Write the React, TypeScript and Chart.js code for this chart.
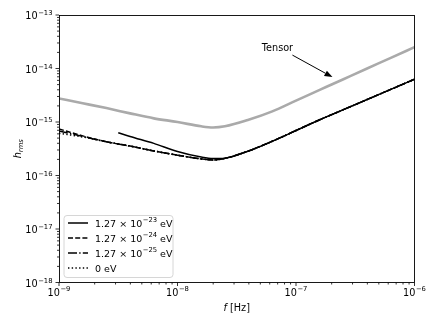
import React, { useEffect, useRef } from "react";
import { Chart, registerables } from "chart.js";
Chart.register(...registerables);

// ---- data ----
const freqHz = [1e-9, 1.585e-9, 2.512e-9, 3.981e-9, 6.31e-9, 1e-8, 1.585e-8, 1.995e-8, 2.512e-8, 3.981e-8, 6.31e-8, 1e-7, 1.585e-7, 2.512e-7, 3.981e-7, 6.31e-7, 1e-6];
const hTensor = [2.75e-15, 2.24e-15, 1.82e-15, 1.45e-15, 1.17e-15, 1.0e-15, 8.3e-16, 7.9e-16, 8.3e-16, 1.1e-15, 1.58e-15, 2.51e-15, 3.98e-15, 6.31e-15, 1.0e-14, 1.58e-14, 2.51e-14];
const hZero = [6.17e-16, 5.25e-16, 4.27e-16, 3.55e-16, 2.88e-16, 2.4e-16, 2.04e-16, 1.95e-16, 2.09e-16, 2.88e-16, 4.37e-16, 6.92e-16, 1.1e-15, 1.7e-15, 2.63e-15, 4.07e-15, 6.31e-15];
const hM24 = [7.41e-16, 5.5e-16, 4.27e-16, 3.55e-16, 2.88e-16, 2.4e-16, 2.04e-16, 1.95e-16, 2.09e-16, 2.88e-16, 4.37e-16, 6.92e-16, 1.1e-15, 1.7e-15, 2.63e-15, 4.07e-15, 6.31e-15];
const hM25 = [6.76e-16, 5.37e-16, 4.27e-16, 3.55e-16, 2.88e-16, 2.4e-16, 2.04e-16, 1.95e-16, 2.09e-16, 2.88e-16, 4.37e-16, 6.92e-16, 1.1e-15, 1.7e-15, 2.63e-15, 4.07e-15, 6.31e-15];
const freqM23 = [3.162e-9, 3.981e-9, 6.31e-9, 1e-8, 1.585e-8, 1.995e-8, 2.512e-8, 3.981e-8, 6.31e-8, 1e-7, 1.585e-7, 2.512e-7, 3.981e-7, 6.31e-7, 1e-6];
const hM23 = [6.31e-16, 5.37e-16, 3.98e-16, 2.82e-16, 2.21e-16, 2.07e-16, 2.11e-16, 2.88e-16, 4.37e-16, 6.92e-16, 1.1e-15, 1.7e-15, 2.63e-15, 4.07e-15, 6.31e-15];

const xTicks = [1e-9, 1e-8, 1e-7, 1e-6];
const yTicks = [1e-18, 1e-17, 1e-16, 1e-15, 1e-14, 1e-13];
const legendMantissa = ["1.27 × 10", "1.27 × 10", "1.27 × 10", "0 eV"];
const legendExponent = ["−23", "−24", "−25", ""];
const annotationText = "Tensor";
const annotationLabel = { f: 6.97e-8, h: 2.41e-14 };
const annotationFrom = { f: 9.33e-8, h: 1.78e-14 };
const annotationTip = { f: 2.03e-7, h: 6.9e-15 };

const FONT = "'DejaVu Sans', sans-serif";
const BIG = 9.7;
const SMALL = 6.8;
const RAISE = 4.3;

const pts = (xs: number[], ys: number[]) => xs.map((x, i) => ({ x, y: ys[i] }));
const expStr = (v: number) => String(Math.round(Math.log10(v))).replace("-", "−");

function powWidth(ctx: CanvasRenderingContext2D, e: string) {
  ctx.font = `${BIG}px ${FONT}`;
  const w1 = ctx.measureText("10").width;
  ctx.font = `${SMALL}px ${FONT}`;
  return w1 + 0.5 + ctx.measureText(e).width;
}
function drawPow(ctx: CanvasRenderingContext2D, e: string, x: number, base: number) {
  ctx.font = `${BIG}px ${FONT}`;
  ctx.fillText("10", x, base);
  const w1 = ctx.measureText("10").width;
  ctx.font = `${SMALL}px ${FONT}`;
  ctx.fillText(e, x + w1 + 0.5, base - RAISE);
}

const decorPlugin = {
  id: "decor",
  afterDraw(chart: any) {
    const { ctx, chartArea: a, scales } = chart;
    const xs = scales.x, ys = scales.y;
    ctx.save();
    ctx.strokeStyle = "#000";
    ctx.lineWidth = 0.8;
    const seg = (x1: number, y1: number, x2: number, y2: number) => {
      ctx.beginPath(); ctx.moveTo(x1, y1); ctx.lineTo(x2, y2); ctx.stroke();
    };
    // minor + major ticks
    for (let e = -9; e <= -6; e++) {
      for (let m = 1; m <= 9; m++) {
        const v = m * Math.pow(10, e);
        if (v > 1.0001e-6) break;
        const px = xs.getPixelForValue(v);
        seg(px, a.bottom, px, a.bottom + (m === 1 ? 3.5 : 2));
      }
    }
    for (let e = -18; e <= -13; e++) {
      for (let m = 1; m <= 9; m++) {
        const v = m * Math.pow(10, e);
        if (v > 1.0001e-13) break;
        const py = ys.getPixelForValue(v);
        seg(a.left, py, a.left - (m === 1 ? 3.5 : 2), py);
      }
    }
    ctx.lineWidth = 0.9;
    ctx.strokeRect(a.left + 0.5, a.top + 0.5, a.right - a.left - 0.5, a.bottom - a.top - 0.5);

    // tick labels (mathtext style 10^n)
    ctx.fillStyle = "#000";
    ctx.textAlign = "left";
    ctx.textBaseline = "alphabetic";
    xTicks.forEach((v) => {
      const e = expStr(v);
      const w = powWidth(ctx, e);
      drawPow(ctx, e, xs.getPixelForValue(v) - w / 2, a.bottom + 13);
    });
    yTicks.forEach((v) => {
      const e = expStr(v);
      const w = powWidth(ctx, e);
      drawPow(ctx, e, a.left - 6.5 - w, ys.getPixelForValue(v) + 4.3);
    });

    // x title
    ctx.font = `italic ${BIG}px ${FONT}`;
    const wf = ctx.measureText("f").width;
    ctx.font = `${BIG}px ${FONT}`;
    const wr = ctx.measureText(" [Hz]").width;
    const bx = (a.left + a.right) / 2 - (wf + wr) / 2;
    ctx.font = `italic ${BIG}px ${FONT}`;
    ctx.fillText("f", bx, 311);
    ctx.font = `${BIG}px ${FONT}`;
    ctx.fillText(" [Hz]", bx + wf, 311);
    // y title
    ctx.save();
    ctx.translate(21, (a.top + a.bottom) / 2);
    ctx.rotate(-Math.PI / 2);
    ctx.font = `italic ${BIG}px ${FONT}`;
    const wh = ctx.measureText("h").width;
    ctx.font = `italic ${SMALL}px ${FONT}`;
    const wrms = ctx.measureText("rms").width;
    const sx = -(wh + wrms) / 2;
    ctx.font = `italic ${BIG}px ${FONT}`;
    ctx.fillText("h", sx, 0);
    ctx.font = `italic ${SMALL}px ${FONT}`;
    ctx.fillText("rms", sx + wh, 1.6);
    ctx.restore();

    // annotation
    ctx.font = `${BIG}px ${FONT}`;
    ctx.textAlign = "center";
    ctx.textBaseline = "middle";
    ctx.fillText(annotationText, xs.getPixelForValue(annotationLabel.f), ys.getPixelForValue(annotationLabel.h));
    const x0 = xs.getPixelForValue(annotationFrom.f), y0 = ys.getPixelForValue(annotationFrom.h);
    const x1 = xs.getPixelForValue(annotationTip.f), y1 = ys.getPixelForValue(annotationTip.h);
    const ang = Math.atan2(y1 - y0, x1 - x0);
    const hl = 8, hw = 3;
    const bxh = x1 - hl * Math.cos(ang), byh = y1 - hl * Math.sin(ang);
    ctx.lineWidth = 1;
    seg(x0, y0, bxh, byh);
    ctx.beginPath();
    ctx.moveTo(x1, y1);
    ctx.lineTo(bxh + hw * Math.sin(ang), byh - hw * Math.cos(ang));
    ctx.lineTo(bxh - hw * Math.sin(ang), byh + hw * Math.cos(ang));
    ctx.closePath();
    ctx.fill();

    // legend
    const lx = a.left + 5, lw = 109, lh = 62;
    const ly = a.bottom - 5 - lh;
    const r = 3;
    ctx.beginPath();
    ctx.moveTo(lx + r, ly);
    ctx.arcTo(lx + lw, ly, lx + lw, ly + lh, r);
    ctx.arcTo(lx + lw, ly + lh, lx, ly + lh, r);
    ctx.arcTo(lx, ly + lh, lx, ly, r);
    ctx.arcTo(lx, ly, lx + lw, ly, r);
    ctx.closePath();
    ctx.fillStyle = "rgba(255,255,255,0.8)";
    ctx.fill();
    ctx.strokeStyle = "#cccccc";
    ctx.lineWidth = 0.8;
    ctx.stroke();
    ctx.textAlign = "left";
    ctx.textBaseline = "alphabetic";
    const dsList = chart.data.datasets.slice(0, 4);
    dsList.forEach((ds: any, i: number) => {
      const cy = ly + 7.5 + i * 15;
      ctx.strokeStyle = ds.borderColor;
      ctx.lineWidth = ds.borderWidth;
      ctx.setLineDash(ds.borderDash || []);
      ctx.beginPath(); ctx.moveTo(lx + 4, cy); ctx.lineTo(lx + 24, cy); ctx.stroke();
      ctx.setLineDash([]);
      ctx.fillStyle = "#000";
      let tx = lx + 31;
      const base = cy + 3.5;
      ctx.font = `9.5px ${FONT}`;
      ctx.fillText(legendMantissa[i], tx, base);
      tx += ctx.measureText(legendMantissa[i]).width;
      if (legendExponent[i]) {
        ctx.font = `${SMALL}px ${FONT}`;
        ctx.fillText(legendExponent[i], tx + 0.5, base - RAISE);
        tx += ctx.measureText(legendExponent[i]).width + 0.5;
        ctx.font = `9.5px ${FONT}`;
        ctx.fillText(" eV", tx, base);
      }
    });
    ctx.restore();
  },
};

export default function App() {
  const ref = useRef<HTMLCanvasElement>(null);
  useEffect(() => {
    document.body.style.margin = "0";
    Chart.defaults.font.family = FONT;
    const common = { borderColor: "#000", borderWidth: 1.5, pointRadius: 0, cubicInterpolationMode: "monotone" };
    const chart = new Chart(ref.current!, {
      type: "line",
      data: {
        datasets: [
          { ...common, label: "1.27e-23 eV", data: pts(freqM23, hM23), borderDash: [] },
          { ...common, label: "1.27e-24 eV", data: pts(freqHz, hM24), borderDash: [5, 2.2] },
          { ...common, label: "1.27e-25 eV", data: pts(freqHz, hM25), borderDash: [9, 2.2, 1.4, 2.2] },
          { ...common, label: "0 eV", data: pts(freqHz, hZero), borderDash: [1.4, 2.3] },
          { label: "Tensor", data: pts(freqHz, hTensor), borderColor: "#aaaaaa", borderWidth: 2.6, pointRadius: 0, cubicInterpolationMode: "monotone" },
        ] as any,
      },
      options: {
        animation: false,
        responsive: false,
        events: [],
        layout: { padding: { top: 15, right: 21.5, bottom: 0, left: 0 } },
        plugins: { legend: { display: false }, tooltip: { enabled: false } },
        scales: {
          x: {
            type: "logarithmic",
            min: 1e-9,
            max: 1e-6,
            afterBuildTicks: (s: any) => { s.ticks = xTicks.map((v) => ({ value: v, major: true })); },
            afterFit: (s: any) => { s.height = 44.5; },
            grid: { display: false, drawTicks: false },
            border: { display: false },
            ticks: { display: false },
          },
          y: {
            type: "logarithmic",
            min: 1e-18,
            max: 1e-13,
            afterBuildTicks: (s: any) => { s.ticks = yTicks.map((v) => ({ value: v, major: true })); },
            afterFit: (s: any) => { s.width = 59; },
            grid: { display: false, drawTicks: false },
            border: { display: false },
            ticks: { display: false },
          },
        },
      } as any,
      plugins: [decorPlugin],
    });
    return () => chart.destroy();
  }, []);
  return (
    <div style={{ width: 436, height: 327 }}>
      <canvas ref={ref} width={436} height={327} />
    </div>
  );
}
